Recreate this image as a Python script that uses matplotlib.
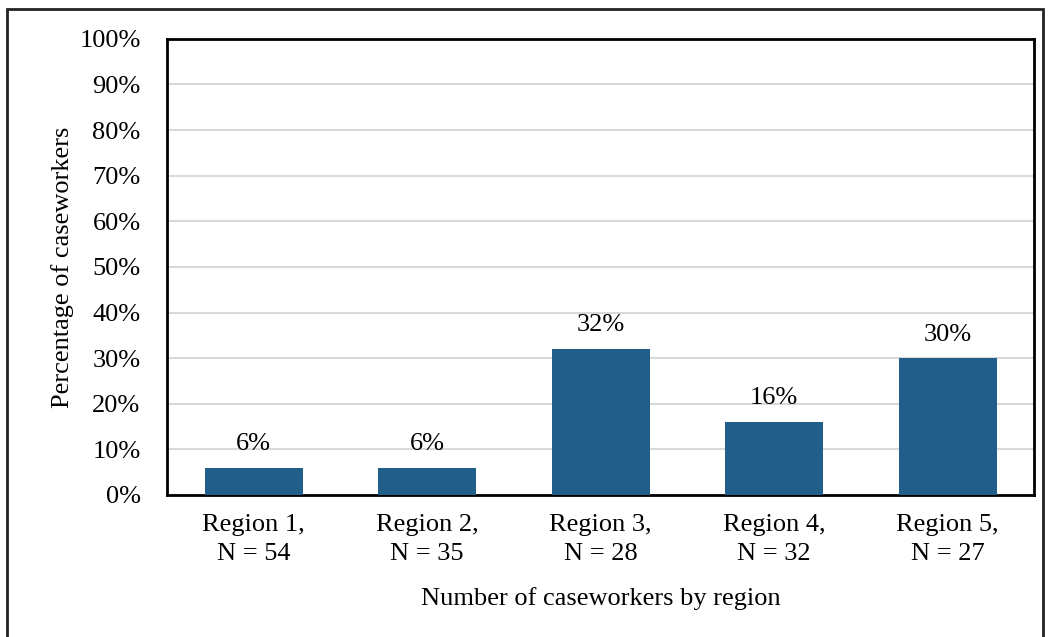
import matplotlib.pyplot as plt
from matplotlib.patches import Rectangle
from matplotlib.ticker import PercentFormatter

regions = ["Region 1,\nN = 54", "Region 2,\nN = 35", "Region 3,\nN = 28",
           "Region 4,\nN = 32", "Region 5,\nN = 27"]
percentages = [6, 6, 32, 16, 30]

BAR_COLOR = "#215F8A"
FS = 19

plt.rcParams["font.family"] = ["Liberation Serif", "DejaVu Serif"]
plt.rcParams["font.size"] = FS

fig = plt.figure(figsize=(10.5, 6.37), dpi=100)
ax = fig.add_axes([0.159, 0.223, 0.826, 0.716])

# outer frame around the chart area
fig.patches.append(Rectangle((0.007, -0.05), 0.986, 1.036, transform=fig.transFigure,
                             fill=False, edgecolor="#222222", linewidth=2))

x = list(range(len(regions)))
bars = ax.bar(x, percentages, width=0.565, color=BAR_COLOR, zorder=3)
for xi, v in zip(x, percentages):
    ax.annotate(f"{v}%", (xi, v), xytext=(0, 9), textcoords="offset points",
                ha="center", va="bottom", fontsize=FS)

ax.set_xlim(-0.5, len(regions) - 0.5)
ax.set_ylim(0, 100)
ax.set_yticks(range(0, 101, 10))
ax.yaxis.set_major_formatter(PercentFormatter(decimals=0))
ax.set_xticks(x)
ax.set_xticklabels(regions, linespacing=1.4)
ax.tick_params(axis="both", length=0, labelsize=FS)
ax.tick_params(axis="x", pad=14)
ax.tick_params(axis="y", pad=19)
ax.grid(axis="y", color="#D9D9D9", linewidth=1.5, zorder=0)
for s in ax.spines.values():
    s.set_linewidth(2)
    s.set_color("black")

ax.set_xlabel("Number of caseworkers by region", fontsize=FS, labelpad=16)
ax.set_ylabel("Percentage of caseworkers", fontsize=FS, labelpad=4)

fig.savefig("out.png", dpi=100)
